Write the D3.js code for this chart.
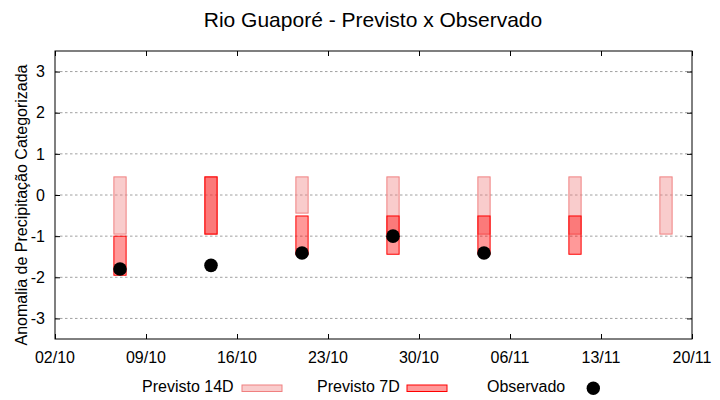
<!DOCTYPE html>
<html>
<head>
<meta charset="utf-8">
<script src="https://cdn.jsdelivr.net/npm/d3@7"></script>
<style>
    body { margin: 0; background: #fff; }
    svg { font-family: "Liberation Sans", Arial, sans-serif; }
</style>
</head>
<body>
<svg id="chart" width="720" height="400"></svg>
<script>
/***************************************************************
    Data
****************************************************************/
const weeks = ["2023-10-07", "2023-10-14", "2023-10-21", "2023-10-28", "2023-11-04", "2023-11-11", "2023-11-18"];
const prev14Top = [0.44, 0.44, 0.44, 0.44, 0.44, 0.44, 0.44];
const prev14Bottom = [-0.95, -0.95, -0.44, -0.95, -0.95, -0.95, -0.95];
const prev7Top = [-1.0, 0.44, -0.51, -0.51, -0.51, -0.51, null];
const prev7Bottom = [-1.95, -0.95, -1.45, -1.44, -1.44, -1.44, null];
const observed = [-1.8, -1.71, -1.41, -1.0, -1.41, null, null];
const xTicks = ["2023-10-02", "2023-10-09", "2023-10-16", "2023-10-23", "2023-10-30", "2023-11-06", "2023-11-13", "2023-11-20"];
const yTicks = [-3, -2, -1, 0, 1, 2, 3];

/***************************************************************
    Graph Logic
****************************************************************/
window.addEventListener('load', () => { drawChart() });

function drawChart() {
    const svg = d3.select("#chart");
    const left = 55, right = 692, top = 51, bottom = 339;
    const parseDate = d3.utcParse("%Y-%m-%d");
    const day = 24 * 3600 * 1000;

    var x = d3.scaleUtc()
        .domain([parseDate(xTicks[0]), parseDate(xTicks[xTicks.length - 1])])
        .range([left, right]);
    var y = d3.scaleLinear().domain([-3.5, 3.5]).range([bottom, top]);

    // grid
    svg.append("g").selectAll("line").data(yTicks).enter().append("line")
        .attr("x1", left).attr("x2", right)
        .attr("y1", d => y(d)).attr("y2", d => y(d))
        .attr("stroke", "#a0a0a0").attr("stroke-dasharray", "2.5,2.5");

    // bars
    const rows = weeks.map((w, i) => ({
        date: parseDate(w), t14: prev14Top[i], b14: prev14Bottom[i],
        t7: prev7Top[i], b7: prev7Bottom[i], obs: observed[i]
    }));
    const halfW = 0.47 * day;

    svg.append("g").selectAll("rect").data(rows).enter().append("rect")
        .attr("x", d => x(new Date(+d.date - halfW)))
        .attr("width", d => x(new Date(+d.date + halfW)) - x(new Date(+d.date - halfW)))
        .attr("y", d => y(d.t14))
        .attr("height", d => y(d.b14) - y(d.t14))
        .attr("fill", "rgba(240,128,128,0.4)").attr("stroke", "#f08080");

    svg.append("g").selectAll("rect").data(rows.filter(d => d.t7 !== null)).enter().append("rect")
        .attr("x", d => x(new Date(+d.date - halfW)))
        .attr("width", d => x(new Date(+d.date + halfW)) - x(new Date(+d.date - halfW)))
        .attr("y", d => y(d.t7))
        .attr("height", d => y(d.b7) - y(d.t7))
        .attr("fill", "rgba(255,0,0,0.4)").attr("stroke", "#ff0000");

    svg.append("g").selectAll("circle").data(rows.filter(d => d.obs !== null)).enter().append("circle")
        .attr("cx", d => x(d.date)).attr("cy", d => y(d.obs))
        .attr("r", 6.8).attr("fill", "#000");

    // frame
    svg.append("rect").attr("x", left).attr("y", top)
        .attr("width", right - left).attr("height", bottom - top)
        .attr("fill", "none").attr("stroke", "#000");

    // axes, ticks pointing inward on all four sides
    const tickDates = xTicks.map(parseDate);
    svg.append("g").attr("transform", `translate(0,${bottom})`)
        .call(d3.axisTop(x).tickValues(tickDates).tickSize(5).tickFormat(""))
        .call(g => g.select(".domain").remove());
    svg.append("g").attr("transform", `translate(0,${top})`)
        .call(d3.axisBottom(x).tickValues(tickDates).tickSize(5).tickFormat(""))
        .call(g => g.select(".domain").remove());
    svg.append("g").attr("transform", `translate(${left},0)`)
        .call(d3.axisRight(y).tickValues(yTicks).tickSize(5).tickFormat(""))
        .call(g => g.select(".domain").remove());
    svg.append("g").attr("transform", `translate(${right},0)`)
        .call(d3.axisLeft(y).tickValues(yTicks).tickSize(5).tickFormat(""))
        .call(g => g.select(".domain").remove());

    // tick labels
    svg.append("g").selectAll("text").data(tickDates).enter().append("text")
        .attr("x", d => x(d)).attr("y", 363)
        .attr("text-anchor", "middle").attr("font-size", 16)
        .text(d3.utcFormat("%d/%m"));
    svg.append("g").selectAll("text").data(yTicks).enter().append("text")
        .attr("x", 45).attr("y", d => y(d)).attr("dy", "0.36em")
        .attr("text-anchor", "end").attr("font-size", 16)
        .text(d => d);

    // titles
    svg.append("text").attr("x", 373).attr("y", 27)
        .attr("text-anchor", "middle").attr("font-size", 21)
        .text("Rio Guaporé - Previsto x Observado");
    svg.append("text").attr("transform", "translate(27,205) rotate(-90)")
        .attr("text-anchor", "middle").attr("font-size", 16)
        .text("Anomalia de Precipitação Categorizada");

    drawLegend(svg);
}

function drawLegend(svg) {
    const g = svg.append("g").attr("font-size", 16);
    g.append("text").attr("x", 142).attr("y", 391.5).text("Previsto 14D");
    g.append("rect").attr("x", 242).attr("y", 385).attr("width", 40).attr("height", 6.5)
        .attr("fill", "rgba(240,128,128,0.4)").attr("stroke", "#f08080");
    g.append("text").attr("x", 317).attr("y", 391.5).text("Previsto 7D");
    g.append("rect").attr("x", 407).attr("y", 385).attr("width", 40).attr("height", 6.5)
        .attr("fill", "rgba(255,0,0,0.4)").attr("stroke", "#ff0000");
    g.append("text").attr("x", 487).attr("y", 391.5).text("Observado");
    g.append("circle").attr("cx", 593.3).attr("cy", 388.3).attr("r", 6.7).attr("fill", "#000");
}
</script>
</body>
</html>
